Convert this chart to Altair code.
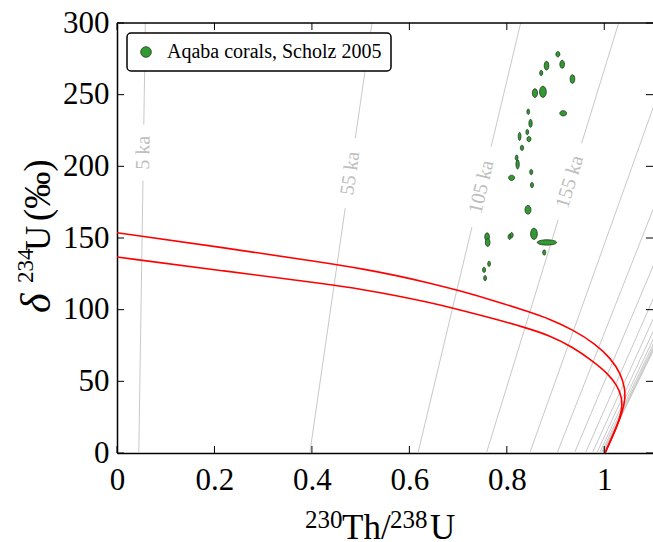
import math
import altair as alt
import pandas as pd

# ------------------------------------------------------------------ data
x_ticks = [0, 0.2, 0.4, 0.6, 0.8, 1.0]
y_ticks = [0, 50, 100, 150, 200, 250, 300]

# isochrons: age (ka), 230Th/238U at d234U = 0 and at d234U = 300
iso_age = [5, 55, 105, 155, 205, 255, 305, 355, 405, 455, 505, 555, 605, 655, 705]
iso_x0 = [0.0447, 0.3957, 0.6177, 0.7582, 0.8470, 0.9032, 0.9388, 0.9613,
          0.9755, 0.9845, 0.9902, 0.9938, 0.9961, 0.9975, 0.9984]
iso_x300 = [0.0582, 0.5233, 0.8284, 1.0295, 1.1624, 1.2508, 1.3098, 1.3494,
            1.3760, 1.3941, 1.4064, 1.4148, 1.4206, 1.4246, 1.4274]

# labelled isochrons: label text, gap in the line around the label, label centre
lab_age = [5, 55, 105, 155]
lab_text = ["5 ka", "55 ka", "105 ka", "155 ka"]
gap_lo_x = [0.0533, 0.4683, 0.7285, 0.9052]
gap_lo_d = [190.0, 170.8, 157.8, 162.5]
gap_hi_x = [0.0550, 0.4891, 0.7677, 0.9535]
gap_hi_d = [229.0, 219.7, 213.6, 216.0]
lab_x = [0.0541, 0.4787, 0.7481, 0.9293]
lab_d = [209.5, 195.2, 185.7, 189.2]

# red evolution curves
up_x = [0.0, 0.22, 0.4366, 0.5048, 0.5732, 0.6414, 0.6993, 0.7779, 0.846, 0.887,
        0.9347, 0.9826, 1.0133, 1.0338, 1.0426, 1.0426, 1.037, 1.0268, 1.0133, 1.0016]
up_d = [153.7, 143.2, 132.3, 128.4, 123.9, 118.6, 113.6, 105.9, 98.4, 93.6,
        86.2, 76.0, 65.9, 55.4, 45.0, 36.8, 28.6, 19.3, 8.9, 0.0]
lo_x = [0.0, 0.22, 0.4366, 0.5048, 0.5732, 0.6414, 0.689, 0.7779, 0.8393, 0.887,
        0.9347, 0.9757, 1.0064, 1.0268, 1.0358, 1.037, 1.0268, 1.0133, 1.0016]
lo_d = [136.7, 127.0, 117.6, 114.0, 109.9, 105.0, 101.2, 93.4, 87.3, 82.2,
        74.0, 64.3, 55.8, 47.0, 39.1, 30.5, 19.3, 8.9, 0.0]

# Aqaba corals (Scholz 2005): centre and half-axes of the error ellipses
cor_x = [0.9048, 0.8815, 0.8706, 0.9136, 0.9347, 0.8577, 0.8741, 0.8440, 0.9157, 0.8487,
         0.8420, 0.8262, 0.8454, 0.8311, 0.8201, 0.8221, 0.8098, 0.8501, 0.8516, 0.8434,
         0.8557, 0.8823, 0.8768, 0.8057, 0.8098, 0.7595, 0.7607, 0.7636, 0.7533, 0.7554]
cor_d = [278.2, 270.2, 265.1, 271.2, 260.9, 251.1, 252.0, 238.1, 237.0, 230.0,
         223.9, 220.9, 219.0, 212.9, 206.0, 201.4, 192.0, 196.0, 186.9, 169.7,
         152.9, 146.9, 139.9, 150.8, 152.0, 150.8, 146.9, 132.0, 127.8, 122.0]
cor_ex = [0.0041, 0.0048, 0.0031, 0.0048, 0.0048, 0.0054, 0.0069, 0.0028, 0.0069, 0.0034,
          0.0028, 0.0028, 0.0041, 0.0034, 0.0028, 0.0034, 0.0061, 0.0031, 0.0031, 0.0061,
          0.0069, 0.0198, 0.0031, 0.0031, 0.0031, 0.0048, 0.0048, 0.0028, 0.0031, 0.0028]
cor_ed = [1.85, 3.04, 1.85, 2.79, 3.04, 3.04, 3.94, 1.85, 1.85, 2.79,
          1.85, 2.79, 1.85, 1.85, 1.85, 3.25, 1.85, 1.85, 1.85, 3.04,
          3.94, 1.85, 1.85, 1.85, 1.85, 2.79, 2.79, 1.85, 1.85, 1.85]
legend_label = "Aqaba corals, Scholz 2005"

# ------------------------------------------------------------------ layout
W, H = 536, 430
XMAX, YMAX = 1.1, 300
sx, sy = W / XMAX, H / YMAX
SERIF = "Liberation Serif"

# ------------------------------------------------------------------ tables
iso_rows = []
for i, age in enumerate(iso_age):
    if age in lab_age:
        j = lab_age.index(age)
        iso_rows += [
            dict(seg=f"{age}a", o=0, x=iso_x0[i], d=0.0),
            dict(seg=f"{age}a", o=1, x=gap_lo_x[j], d=gap_lo_d[j]),
            dict(seg=f"{age}b", o=0, x=gap_hi_x[j], d=gap_hi_d[j]),
            dict(seg=f"{age}b", o=1, x=iso_x300[i], d=300.0),
        ]
    else:
        iso_rows += [
            dict(seg=f"{age}", o=0, x=iso_x0[i], d=0.0),
            dict(seg=f"{age}", o=1, x=iso_x300[i], d=300.0),
        ]
iso_df = pd.DataFrame(iso_rows)

lab_rows = []
for j, age in enumerate(lab_age):
    i = iso_age.index(age)
    dx = (iso_x300[i] - iso_x0[i]) * sx
    dy = 300 * sy
    ang = 360 - math.degrees(math.atan2(dy, dx))
    lab_rows.append(dict(x=lab_x[j], d=lab_d[j], t=lab_text[j], ang=ang))
lab_df = pd.DataFrame(lab_rows)

red_rows = [dict(c="up", o=k, x=a, d=b) for k, (a, b) in enumerate(zip(up_x, up_d))]
red_rows += [dict(c="lo", o=k, x=a, d=b) for k, (a, b) in enumerate(zip(lo_x, lo_d))]
red_df = pd.DataFrame(red_rows)

cor_rows, ids, paths = [], [], []
for k in range(len(cor_x)):
    wpx = 2 * cor_ex[k] * sx
    hpx = 2 * cor_ed[k] * sy
    m = max(wpx, hpx)
    a, b = wpx / m, hpx / m
    p = (f"M {-a:.3f} 0 A {a:.3f} {b:.3f} 0 1 0 {a:.3f} 0 "
         f"A {a:.3f} {b:.3f} 0 1 0 {-a:.3f} 0 Z")
    ids.append(f"c{k}")
    paths.append(p)
    cor_rows.append(dict(x=cor_x[k], d=cor_d[k], id=f"c{k}", sz=m * m, lab=legend_label))
cor_df = pd.DataFrame(cor_rows)

xt_df = pd.DataFrame({"x": x_ticks})
yt_df = pd.DataFrame({"d": y_ticks})
one = pd.DataFrame({"k": [0]})

# ------------------------------------------------------------------ encodings
X = alt.X(
    "x:Q",
    scale=alt.Scale(domain=[0, XMAX], nice=False, zero=False),
    axis=alt.Axis(
        values=x_ticks, format="~g", ticks=False, grid=False,
        domainColor="black", domainWidth=1.5,
        labelFont=SERIF, labelFontSize=31, labelColor="black", labelPadding=12,
        labelFlush=False, labelOverlap=False, title=None,
    ),
)
Y = alt.Y(
    "d:Q",
    scale=alt.Scale(domain=[0, YMAX], nice=False, zero=False),
    axis=alt.Axis(
        values=y_ticks, ticks=False, grid=False,
        domainColor="black", domainWidth=1.5,
        labelFont=SERIF, labelFontSize=31, labelColor="black", labelPadding=8,
        labelFlush=False, labelOverlap=False, title=None,
    ),
)

# ------------------------------------------------------------------ layers
iso = alt.Chart(iso_df).mark_line(color="#c8c8c8", strokeWidth=1, clip=True).encode(
    x=X, y=Y, detail="seg:N", order="o:Q"
)
labels = alt.Chart(lab_df).mark_text(
    font=SERIF, fontSize=20, color="#bdbdbd", align="center", baseline="middle"
).encode(x=X, y=Y, text="t:N", angle=alt.Angle("ang:Q", scale=None))
red = alt.Chart(red_df).mark_line(
    color="#ff0000", strokeWidth=1.6, interpolate="basis", clip=True
).encode(x=X, y=Y, detail="c:N", order="o:Q")
corals = alt.Chart(cor_df).mark_point(
    filled=True, opacity=1, stroke="#1e3a1e", strokeWidth=0.8
).encode(
    x=X, y=Y,
    shape=alt.Shape("id:N", scale=alt.Scale(domain=ids, range=paths), legend=None),
    size=alt.Size("sz:Q", scale=None),
    fill=alt.Fill(
        "lab:N",
        scale=alt.Scale(range=["#339933"]),
        legend=alt.Legend(
            title=None, orient="none", legendX=10, legendY=10,
            labelFont=SERIF, labelFontSize=20, labelColor="black", labelLimit=600,
            symbolType="circle", symbolSize=113, symbolOpacity=1,
            symbolStrokeColor="#1e3a1e", symbolStrokeWidth=0.8,
            strokeColor="black", fillColor="white", padding=9,
            cornerRadius=4, labelOffset=11,
        ),
    ),
)

tick_len = 7
ticks_left = alt.Chart(yt_df).mark_rule(color="black", strokeWidth=1).encode(
    y=Y, x=alt.value(0), x2=alt.value(tick_len))
ticks_right = alt.Chart(yt_df).mark_rule(color="black", strokeWidth=1).encode(
    y=Y, x=alt.value(W - tick_len), x2=alt.value(W))
ticks_bottom = alt.Chart(xt_df).mark_rule(color="black", strokeWidth=1).encode(
    x=X, y=alt.value(H - tick_len), y2=alt.value(H))
ticks_top = alt.Chart(xt_df).mark_rule(color="black", strokeWidth=1).encode(
    x=X, y=alt.value(0), y2=alt.value(tick_len))
top_spine = alt.Chart(one).mark_rule(color="black", strokeWidth=1.5).encode(
    x=alt.value(0), x2=alt.value(W), y=alt.value(0))


def piece(txt, px, py, size, angle=0, italic=False):
    kw = dict(font=SERIF, fontSize=size, color="black", align="left",
              baseline="alphabetic", angle=angle)
    if italic:
        kw["fontStyle"] = "italic"
    return alt.Chart(one).mark_text(text=txt, **kw).encode(
        x=alt.value(px), y=alt.value(py))


# axis titles with real-size superscripts
x_title = [
    piece("230", 188, 505, 25),
    piece("Th/", 225, 516, 35),
    piece("238", 273, 505, 25),
    piece("U", 313, 516, 35),
]
y_title = [
    piece("δ", -67, 290, 42, angle=270, italic=True),
    piece("234", -84, 260, 23, angle=270),
    piece("U", -67, 228, 35, angle=270),
    piece("(‰)", -67, 198, 37, angle=270),
]

chart = alt.layer(
    iso, labels, red, corals, ticks_left, ticks_right, ticks_bottom, ticks_top,
    top_spine, *x_title, *y_title
).properties(
    width=W, height=H,
    padding={"left": 117, "top": 23, "right": 0, "bottom": 89},
    autosize=alt.AutoSizeParams(type="none"),
    background="white",
).configure_view(stroke=None).configure_legend(strokeWidth=1.5)

chart.save("out.html", embed_options={"renderer": "svg", "actions": False})
